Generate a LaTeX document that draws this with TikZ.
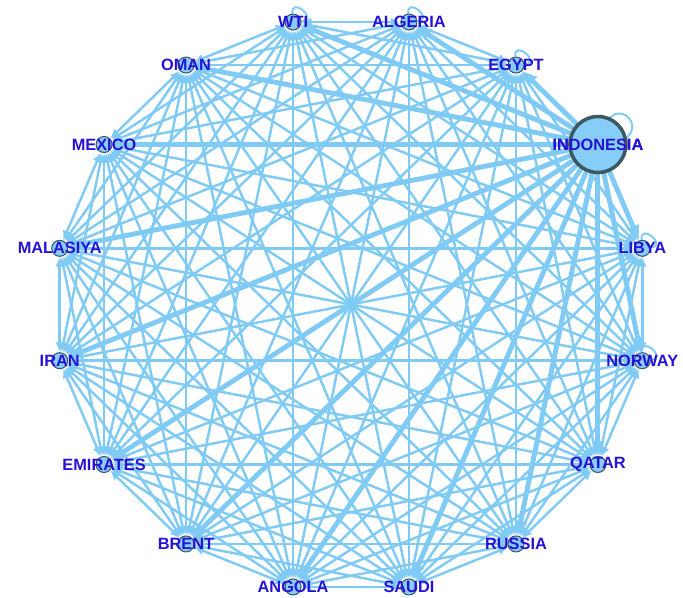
\documentclass[tikz,border=0pt]{standalone}
\usepackage{fontspec}
\setmainfont{Liberation Sans}
\usetikzlibrary{arrows.meta,backgrounds}
\definecolor{linkblue}{RGB}{128,202,246}
\definecolor{nodefill}{RGB}{135,205,250}
\definecolor{rimgray}{RGB}{62,88,98}
\definecolor{namecol}{RGB}{38,18,215}
\begin{document}
\begin{tikzpicture}
    [
    x=0.02cm,y=-0.02cm,
    point/.style={circle,draw=rimgray,fill=nodefill,inner sep=0pt,minimum size=0.32cm,line width=0.6pt},
    big/.style={minimum size=1.12cm,line width=2pt},
    cname/.style={font=\bfseries\fontsize{9.3}{11}\selectfont,text=namecol,inner sep=0pt},
    link/.style={draw=linkblue,line width=1.4pt,{Latex[length=5.5pt,width=5pt]}-{Latex[length=5.5pt,width=5pt]}},
    strong/.style={draw=linkblue,line width=2.8pt,-{Latex[length=8.5pt,width=8pt]}},
    self/.style={draw=linkblue,line width=1.1pt}
    ]
    \useasboundingbox (0,0) rectangle (683,598);
    % countries on a ring, clockwise from algeria
    \foreach \c/\t [count=\i] in {algeria/ALGERIA,egypt/EGYPT,indonesia/INDONESIA,libya/LIBYA,
        norway/NORWAY,qatar/QATAR,russia/RUSSIA,saudi/SAUDI,angola/ANGOLA,brent/BRENT,
        emirates/EMIRATES,iran/IRAN,malasiya/MALASIYA,mexico/MEXICO,oman/OMAN,wti/WTI}
      \node (\c) at ({351+297*cos(101.25-22.5*\i)},{304.5-288*sin(101.25-22.5*\i)})
        [point,label={[cname]center:\t}] {};
    \node at (indonesia) [point,big] {};
    \node at (indonesia) [cname] {INDONESIA};
    \begin{scope}[on background layer]
      \foreach \s [count=\i] in {algeria,egypt,indonesia,libya,norway,qatar,russia,saudi,
          angola,brent,emirates,iran,malasiya,mexico,oman,wti}
        \foreach \e [count=\j] in {algeria,egypt,indonesia,libya,norway,qatar,russia,saudi,
            angola,brent,emirates,iran,malasiya,mexico,oman,wti}
          {\ifnum\i<\j \draw [link] (\s) to (\e); \fi}
      \foreach \e in {wti,algeria,egypt,libya,norway,qatar,russia,saudi,
          angola,brent,emirates,iran,malasiya,mexico,oman}
        \draw [strong] (indonesia) to (\e);
      \draw [self] (indonesia) to[out=75,in=5,distance=1.1cm] (indonesia);
      \foreach \c in {wti,algeria,egypt,libya,norway}
        \draw [self] (\c) to[out=95,in=5,distance=0.35cm] (\c);
    \end{scope}
  \end{tikzpicture}
\end{document}
